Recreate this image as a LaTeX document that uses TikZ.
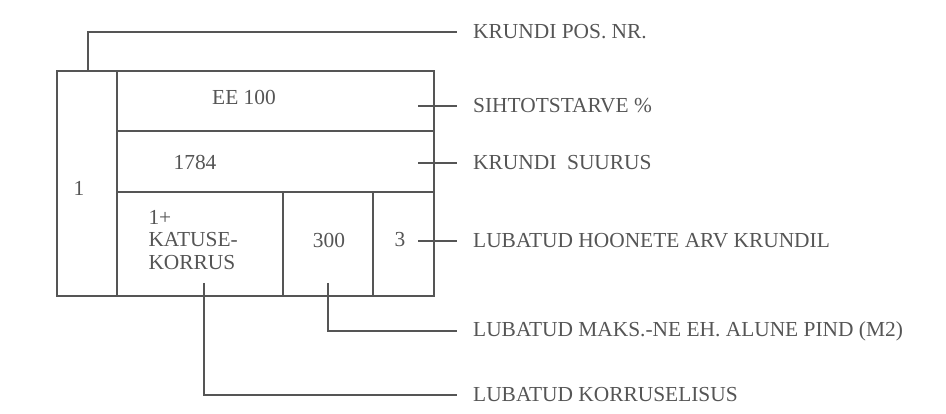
\documentclass[tikz,border=0pt]{standalone}
\usepackage{fontspec}
\setmainfont{Liberation Serif}
\usepackage{tikz}
\usetikzlibrary{positioning}
\definecolor{ink}{HTML}{555555}
\tikzset{
    every node/.style={font=\fontsize{21.4}{22.5}\selectfont, text=ink},
    grid/.style={draw=ink, line width=1.4pt},
    leader/.style={draw=ink, line width=1.4pt},
    callout/.style={anchor=west, inner xsep=16pt, inner ysep=0pt}
}

\begin{document}
\begin{tikzpicture}[x=1pt, y=-1pt]
  \useasboundingbox (0,0) rectangle (946,414);

  % Plot box
  \draw[grid] (57,71) rectangle (434,296);
  \draw[grid] (117,71) -- (117,296);
  \draw[grid] (117,131) -- (434,131);
  \draw[grid] (117,192) -- (434,192);
  \draw[grid] (283,192) -- (283,296);
  \draw[grid] (373,192) -- (373,296);

  % Values in the box
  \node (pos) at (79,188) {1};
  \node (eesm) at (244,97) {EE 100};
  \node (suurus) at (195,162) {1784};
  \node[align=left, anchor=west] (korrus) at (145,240) {1+\\KATUSE-\\KORRUS};
  \node (pind) at (329,240) {300};
  \node (arv) at (400,240) {3};

  % Callout texts
  \node[callout] (posnr) at (457,32) {KRUNDI POS. NR.};
  \node[callout] (siht) at (457,106) {SIHTOTSTARVE \%};
  \node[callout] (kruus) at (457,163) {KRUNDI\ \ SUURUS};
  \node[callout] (hoon) at (457,241) {LUBATUD HOONETE ARV KRUNDIL};
  \node[callout] (maks) at (457,331) {LUBATUD MAKS.-NE EH. ALUNE PIND (M2)};
  \node[callout] (kor) at (457,395) {LUBATUD KORRUSELISUS};

  % Leader ends inside the box
  \coordinate (c1) at (88,71);
  \coordinate (c2) at (418,106);
  \coordinate (c3) at (418,163);
  \coordinate (c4) at (418,241);
  \coordinate (c5) at (328,283);
  \coordinate (c6) at (204,283);

  % Leaders
  \draw[leader] (c1) |- (posnr.west);
  \draw[leader] (c2) -- (siht.west);
  \draw[leader] (c3) -- (kruus.west);
  \draw[leader] (c4) -- (hoon.west);
  \draw[leader] (c5) |- (maks.west);
  \draw[leader] (c6) |- (kor.west);
\end{tikzpicture}
\end{document}
